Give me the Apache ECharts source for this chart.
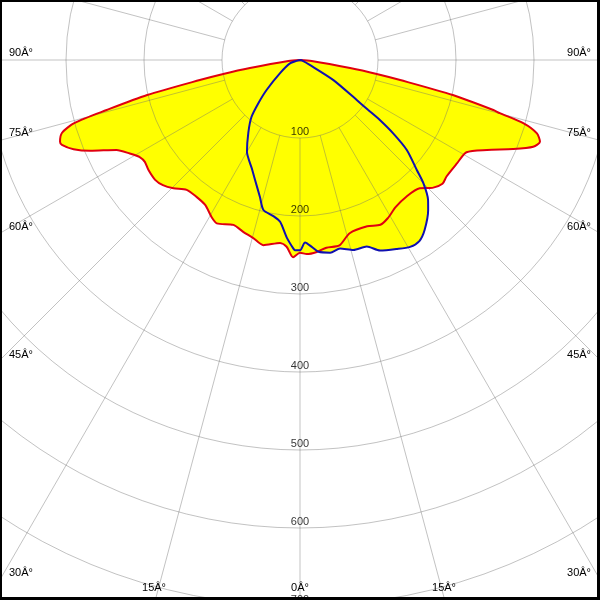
<!DOCTYPE html>
<html><head><meta charset="utf-8">
<script src="https://cdn.jsdelivr.net/npm/echarts@6/dist/echarts.min.js"></script>
<style>html,body{margin:0;padding:0;background:#fff}#c{width:600px;height:600px}</style>
</head><body><div id="c"></div>
<script>
// Intensity rings (cd) and their labels
const radiusTicks = [100, 200, 300, 400, 500, 600, 700];
const radiusLabels = ['100', '200', '300', '400', '500', '600', '700'];
// Angle labels (as printed in the original, including the mis-encoded degree sign)
const angleLabelsLeft = ['90Â°', '75Â°', '60Â°', '45Â°', '30Â°', '15Â°'];
const angleLabelsRight = ['90Â°', '75Â°', '60Â°', '45Â°', '30Â°', '15Â°'];
const angleLabelCenter = '0Â°';
// Radial grid spokes (degrees, 0 = straight down, positive = right side)
const spokeAngles = [-165, -150, -135, -120, -105, -90, -75, -60, -45, -30, -15, 0, 15, 30, 45, 60, 75, 90, 105, 120, 135, 150, 165, 180];

// Red curve: [gamma (deg), intensity]
const redRight = [[0,247],[2,249],[5,247],[8,243],[12,243],[16,231],[22,230],[26,235],[29,232],[33,225],[38,222],[43,225],[46,236],[49,242],[51.5,240],[56.6,241],[61,244],[64.3,266],[67.3,296],[69.6,319],[71.2,325],[72.8,318],[74.2,298],[75.1,265],[75.5,256],[77.1,201],[78.7,131],[79.7,100],[80.9,65],[85,15],[90,0]];
const redLeft = [[2,253],[4.1,240],[6.2,236],[11.2,242],[14.7,236],[18.3,232],[22,228],[27,235],[29.4,231],[33.2,222],[37.1,220],[41.1,221],[44.6,231],[47.6,238],[50.4,241],[54.1,240],[56.7,238],[58.7,240],[61.2,249],[63.9,262],[66.6,293],[68.5,312],[70.4,324],[71.2,325],[73,319],[74.4,300],[75.5,256],[77.1,201],[78.7,131],[79.7,100],[80.9,65],[85,15],[90,0]];
// Blue curve: [gamma (deg), intensity]
const blueRight = [[0,244],[1.6,234],[3.6,240],[5.5,247],[8.9,250],[12,247],[15.7,253],[19.7,254],[22.8,265],[27,272],[30.5,278],[33.4,278],[36.3,270],[40.5,253],[42.5,243],[45,224],[46.7,206],[49.9,179],[51.8,152],[53.1,128],[53.8,108],[54.8,89],[59,50],[63.4,14],[75,3],[90,0]];
const blueLeft = [[1.5,244],[2,242],[4.3,228],[7,209],[9.7,203],[13.7,198],[16.3,183],[20.6,164],[24,152],[30,136],[35.5,114],[40.4,96],[43.9,77],[48,58],[56.4,31],[71.7,13],[90,0]];

function buildPath(left, right) {
  const out = [];
  for (let i = left.length - 1; i >= 0; i--) out.push([left[i][1], -left[i][0]]);
  for (const p of right) out.push([p[1], p[0]]);
  return out;
}
const redPath = buildPath(redLeft, redRight);
const bluePath = buildPath(blueLeft, blueRight);

const gridColor = 'rgba(110,110,110,0.42)';
const FONT = '"Liberation Sans", Arial, sans-serif';

const series = [];
[redPath, bluePath].forEach(d => series.push({
  type: 'line', coordinateSystem: 'polar', data: d, symbol: 'none', smooth: 0.25,
  lineStyle: { width: 0 }, areaStyle: { color: '#ffff00', opacity: 1 }, z: 1, silent: true
}));
spokeAngles.forEach(a => series.push({
  type: 'line', coordinateSystem: 'polar', data: [[100, a], [800, a]], symbol: 'none',
  lineStyle: { color: gridColor, width: 1 }, z: 3, silent: true
}));
series.push({ type: 'line', coordinateSystem: 'polar', data: redPath, symbol: 'none', smooth: 0.25,
  lineStyle: { color: '#e00010', width: 2 }, z: 5, silent: true });
series.push({ type: 'line', coordinateSystem: 'polar', data: bluePath, symbol: 'none', smooth: 0.25,
  lineStyle: { color: '#1010b0', width: 2 }, z: 5, silent: true });
series.push({ type: 'scatter', coordinateSystem: 'polar', data: radiusTicks.map(r => [r, 0]), symbolSize: 0,
  z: 6, silent: true,
  label: { show: true, position: 'top', distance: 1, color: '#000', fontSize: 11, fontFamily: FONT,
    formatter: p => radiusLabels[p.dataIndex] } });

const txt = (s, x, y, align) => ({ type: 'text', z: 50, x: x, y: y,
  style: { text: s, fill: '#000', font: '11px ' + FONT, textAlign: align, textVerticalAlign: 'middle' } });
const leftY = [53, 133, 227, 355, 573];
const graphics = [];
leftY.forEach((y, i) => { graphics.push(txt(angleLabelsLeft[i], 9, y, 'left')); graphics.push(txt(angleLabelsRight[i], 591, y, 'right')); });
graphics.push(txt(angleLabelsLeft[5], 154, 588, 'center'));
graphics.push(txt(angleLabelsRight[5], 444, 588, 'center'));
graphics.push(txt(angleLabelCenter, 300, 588, 'center'));
// frame
graphics.push({ type: 'rect', z: 100, shape: { x: 0, y: 0, width: 600, height: 2 }, style: { fill: '#000' } });
graphics.push({ type: 'rect', z: 100, shape: { x: 0, y: 0, width: 2, height: 600 }, style: { fill: '#000' } });
graphics.push({ type: 'rect', z: 100, shape: { x: 597, y: 0, width: 3, height: 600 }, style: { fill: '#000' } });
graphics.push({ type: 'rect', z: 100, shape: { x: 0, y: 597, width: 600, height: 3 }, style: { fill: '#000' } });

const chart = echarts.init(document.getElementById('c'), null, { renderer: 'canvas' });
chart.setOption({
  animation: false,
  backgroundColor: '#ffffff',
  polar: { center: [300, 60], radius: 624 },
  angleAxis: { type: 'value', min: -180, max: 180, startAngle: 90, clockwise: false,
    axisLine: { show: false }, axisTick: { show: false }, axisLabel: { show: false }, splitLine: { show: false } },
  radiusAxis: { type: 'value', min: 0, max: 800, interval: 100, z: 3,
    axisLine: { show: false }, axisTick: { show: false }, axisLabel: { show: false },
    splitLine: { show: true, lineStyle: { color: gridColor, width: 1 } } },
  series: series,
  graphic: graphics
});
</script></body></html>
